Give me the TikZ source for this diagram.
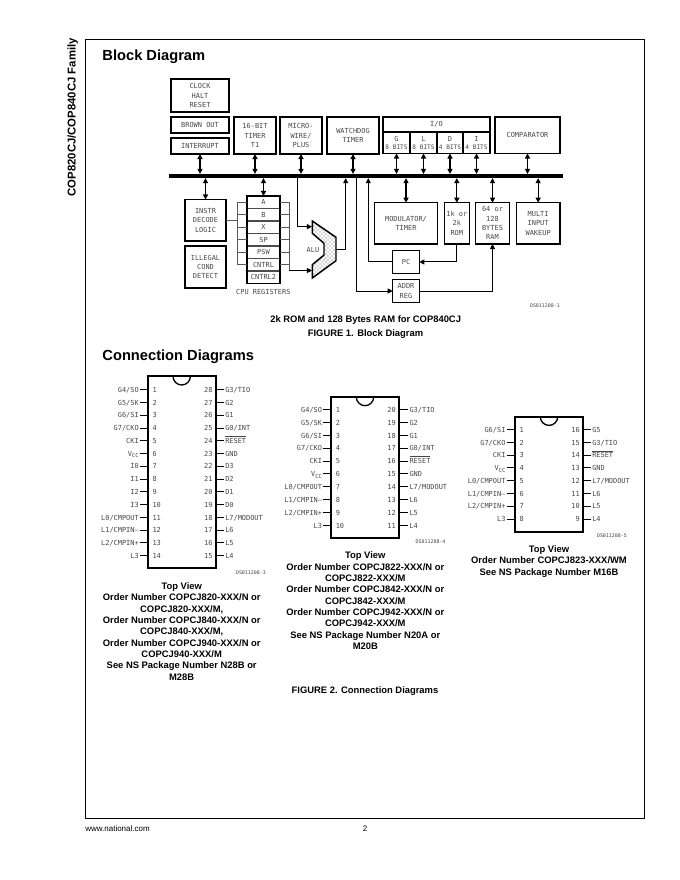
\documentclass[tikz,border=0pt]{standalone}
\usepackage{fontspec}
\setmainfont{Liberation Sans}
\newfontfamily\diag{DejaVu Sans Mono}
\usetikzlibrary{arrows.meta,patterns,calc}
\newcommand\dfont{\diag\fontsize{5.2pt}{7pt}\selectfont}
\newcommand\bxx[7][]{%
  \pgfmathsetmacro\bw{(#5-#3)*0.75}\pgfmathsetmacro\bh{(#6-#4)*0.75}%
  \pgfmathsetmacro\bcx{(#5+#3)/2}\pgfmathsetmacro\bcy{(#6+#4)/2}%
  \node[boxn,#1,minimum width=\bw pt,minimum height=\bh pt] (#2) at (\bcx,\bcy) {#7};}
\newcommand\vcc{V\raisebox{-1.3pt}{\fontsize{4.2pt}{4pt}\selectfont CC}}
\newcommand\rst{$\overline{\mbox{RESET}}$}
\newcommand\bits[1]{{\fontsize{4.6pt}{5pt}\selectfont #1}}
\tikzset{
  boxn/.style={draw=black,line width=1.1pt,inner sep=0pt,outer sep=0pt,align=center,font=\dfont,text=black!72},
  regcell/.style={line width=0.8pt,draw=black!70},
  bi/.style={line width=0.9pt,{Triangle[length=3.8pt,width=3.8pt]}-{Triangle[length=3.8pt,width=3.8pt]}},
  uni/.style={line width=0.75pt,-{Triangle[length=3.8pt,width=3.8pt]}},
  wiregray/.style={line width=0.75pt,draw=black!65},
  head/.style={font=\fontsize{11pt}{13pt}\selectfont\bfseries,anchor=west,inner sep=0pt},
  captxt/.style={font=\fontsize{7.05pt}{8.5pt}\selectfont\bfseries,align=center,inner sep=0pt},
  dsn/.style={font=\diag\fontsize{3.7pt}{4pt}\selectfont,anchor=east,inner sep=0pt,text=black!75},
  lbl/.style={font=\dfont,inner sep=0pt,text=black!72},
  pinl/.style={font=\dfont,text=black!72,anchor=east,inner sep=0pt,text height=4pt,text depth=0pt},
  pinr/.style={font=\dfont,text=black!72,anchor=west,inner sep=0pt,text height=4pt,text depth=0pt},
  stub/.style={line width=0.75pt},
  notch/.style={line width=1pt},
}
\newcommand\leftpins[5]{%
  \foreach \n/\t [count=\i from 0] in {#5}{
    \pgfmathsetmacro\py{#3+\i*#4}
    \node[pinl] (#1L\n) at (#2,\py) {\t};
    \draw[stub] (#1L\n.east) ++(0.7pt,0) -- (#1L\n.east -| #1.west);
    \node[pinr,xshift=3.4pt] (#1NL\n) at (#1L\n.east -| #1.west) {\n};
  }}
\newcommand\rightpins[5]{%
  \foreach \n/\t [count=\i from 0] in {#5}{
    \pgfmathsetmacro\py{#3+\i*#4}
    \node[pinr] (#1R\n) at (#2,\py) {\t};
    \draw[stub] (#1R\n.west) ++(-0.7pt,0) -- (#1R\n.west -| #1.east);
    \node[pinl,xshift=-2.4pt] (#1NR\n) at (#1R\n.west -| #1.east) {\n};
  }}
\begin{document}
\begin{tikzpicture}[x=0.75pt,y=-0.75pt]
\useasboundingbox (0,0) rectangle (680,880);
% page furniture
\bxx[line width=0.75pt]{frame}{85}{39.5}{644}{818}{}
\node[rotate=90,font=\fontsize{8.5pt}{9pt}\selectfont\bfseries,inner sep=0pt] (side) at (72.7,117.3) {COP820CJ/COP840CJ Family};
\node[font=\fontsize{6pt}{7pt}\selectfont,anchor=west,inner sep=0pt] (web) at (85,829) {www.national.com};
\node[font=\fontsize{6pt}{7pt}\selectfont,inner sep=0pt] (pg) at (365,829) {2};
\node[head] (h1) at (102.2,57) {Block Diagram};
\node[head] (h2) at (102.2,356.5) {Connection Diagrams};
% top boxes
\bxx{clock}{171}{79}{229}{112}{CLOCK\\HALT\\RESET}
\bxx{brown}{171}{117}{229}{133}{BROWN OUT}
\bxx{intr}{171}{138}{229}{154}{INTERRUPT}
\bxx{timer}{234}{117}{276}{154}{16-BIT\\TIMER\\T1}
\bxx{micro}{280}{117}{322}{154}{MICRO-\\WIRE/\\PLUS}
\bxx{wdog}{327}{117}{379}{154}{WATCHDOG\\TIMER}
\bxx{io}{383}{117}{490}{132}{I/O}
\bxx{ioG}{383}{132}{410}{153.5}{G\\[-1pt]\bits{8 BITS}}
\bxx{ioL}{410}{132}{437}{153.5}{L\\[-1pt]\bits{8 BITS}}
\bxx{ioD}{437}{132}{463}{153.5}{D\\[-1pt]\bits{4 BITS}}
\bxx{ioI}{463}{132}{490}{153.5}{I\\[-1pt]\bits{4 BITS}}
\bxx{comp}{495}{117}{560}{153.5}{COMPARATOR}
% bus
\node[fill=black,inner sep=0pt,outer sep=0pt,minimum width=295.5pt,minimum height=3.2pt] (bus) at (365.5,176) {};
% lower boxes
\bxx{instr}{185}{199.5}{226}{241}{INSTR\\DECODE\\LOGIC}
\bxx{illegal}{185}{246}{226}{288}{ILLEGAL\\COND\\DETECT}
\bxx[regcell]{rA}{247}{196}{280}{208.7}{A}
\bxx[regcell]{rB}{247}{208.7}{280}{221}{B}
\bxx[regcell]{rX}{247}{221}{280}{233.3}{X}
\bxx[regcell]{rSP}{247}{233.3}{280}{246}{SP}
\bxx[regcell]{rPSW}{247}{246}{280}{258.3}{PSW}
\bxx[regcell]{rC1}{247}{258.3}{280}{271}{CNTRL}
\bxx[regcell]{rC2}{247}{271}{280}{283.3}{CNTRL2}
\bxx{regs}{247}{196}{280}{283.3}{}
\node[lbl] (cpu) at (263.3,291.5) {CPU REGISTERS};
\bxx{modu}{374.7}{202.7}{437.3}{244}{MODULATOR/\\TIMER}
\bxx{rom}{444.3}{202.7}{469.3}{244}{1k or\\2k\\ROM}
\bxx{ram}{475.7}{202.7}{509.3}{244}{64 or\\128\\BYTES\\RAM}
\bxx{wake}{516.3}{202.7}{560}{244}{MULTI\\INPUT\\WAKEUP}
\bxx{pc}{392.7}{250.7}{419.3}{273.3}{PC}
\bxx{addr}{392.7}{279.7}{419.3}{302.3}{ADDR\\REG}
\node[dsn] (ds1) at (560,306) {DS011208-1};
% ALU
\draw[line width=1.1pt,pattern=crosshatch dots,pattern color=black!70] (312.3,221) -- (336,237.3) -- (336,260.7) -- (312.3,278) -- (312.3,264.7) -- (324,255) -- (324,243.3) -- (312.3,233.3) -- cycle;
\node[lbl] (alu) at (313,250) {ALU};
\coordinate (aluO) at (336,249.3);
\coordinate (aluIn1) at (312,226.7);
\coordinate (aluIn2) at (312,270.5);
% bus connections
\foreach \b in {intr,timer,micro,wdog,ioG,ioL,ioD,ioI,comp}
  \draw[bi] (\b.south) -- (\b.south |- bus.north);
\foreach \b in {instr,modu,rom,ram,wake,regs}
  \draw[bi] (\b.north) -- (\b.north |- bus.south);
% register brackets
\coordinate (brL) at (237.7,220.3);
\coordinate (brR) at (289,220.3);
\draw[wiregray] (instr.east |- brL) -- (brL);
\foreach \r in {rA,rB,rX,rSP,rPSW,rC1}{
  \draw[wiregray] (\r.west) -- (\r.west -| brL);
  \draw[wiregray] (\r.east) -- (\r.east -| brR);
}
\draw[wiregray] (rA.west -| brL) -- (rC1.west -| brL);
\draw[wiregray] (rA.east -| brR) -- (brR |- aluIn2);
\draw[uni] (brR |- aluIn2) -- (aluIn2);
\coordinate (tapA) at (297.7,226.7);
\draw[uni] (tapA |- bus.south) -- (tapA) -- (aluIn1);
\coordinate (outX) at (345.7,249.3);
\draw[uni] (aluO) -- (outX) -- (outX |- bus.south);
\coordinate (pcX) at (368.3,262);
\draw[uni] (pc.west) -- (pc.west -| pcX) -- (pcX |- bus.south);
\draw[uni] (rom.south) -- (rom.south |- pc.east) -- (pc.east);
\coordinate (adX) at (356.7,291);
\draw[uni] (adX |- bus.south) -- (adX |- addr.west) -- (addr.west);
\draw[uni] (addr.east) -- (addr.east -| ram.south) -- (ram.south);
% captions block
\node[captxt] (c1) at (365.7,320) {2k ROM and 128 Bytes RAM for COP840CJ};
\node[captxt] (c2) at (365.5,334) {FIGURE 1. Block Diagram};
% chip A
\bxx[line width=1.3pt]{chA}{147.7}{376.3}{216}{568.3}{}
\draw[notch] (173,376.3) arc[start angle=180,end angle=0,radius=8.7];
\leftpins{chA}{139}{389.7}{12.77}{1/{G4/SO},2/{G5/SK},3/{G6/SI},4/{G7/CKO},5/CKI,6/\vcc,7/I0,8/I1,9/I2,10/I3,11/{L0/CMPOUT},12/{L1/CMPIN–},13/{L2/CMPIN+},14/L3}
\rightpins{chA}{225}{389.7}{12.77}{28/{G3/TIO},27/G2,26/G1,25/{G0/INT},24/\rst,23/GND,22/D3,21/D2,20/D1,19/D0,18/{L7/MODOUT},17/L6,16/L5,15/L4}
\node[dsn] (ds3) at (266,572.7) {DS011208-3};
\node[captxt] (capA) at (181.7,631.3) {Top View\\Order Number COPCJ820-XXX/N or\\COPCJ820-XXX/M,\\Order Number COPCJ840-XXX/N or\\COPCJ840-XXX/M,\\Order Number COPCJ940-XXX/N or\\COPCJ940-XXX/M\\See NS Package Number N28B or\\M28B};
% chip B
\bxx[line width=1.3pt]{chB}{331}{397}{399.3}{538.3}{}
\draw[notch] (356.3,397) arc[start angle=180,end angle=0,radius=8.7];
\leftpins{chB}{322.3}{409.7}{12.85}{1/{G4/SO},2/{G5/SK},3/{G6/SI},4/{G7/CKO},5/CKI,6/\vcc,7/{L0/CMPOUT},8/{L1/CMPIN–},9/{L2/CMPIN+},10/L3}
\rightpins{chB}{409.3}{409.7}{12.85}{20/{G3/TIO},19/G2,18/G1,17/{G0/INT},16/\rst,15/GND,14/{L7/MODOUT},13/L6,12/L5,11/L4}
\node[dsn] (ds4) at (445.7,541.7) {DS011208-4};
\node[captxt] (capB) at (365.3,600.7) {Top View\\Order Number COPCJ822-XXX/N or\\COPCJ822-XXX/M\\Order Number COPCJ842-XXX/N or\\COPCJ842-XXX/M\\Order Number COPCJ942-XXX/N or\\COPCJ942-XXX/M\\See NS Package Number N20A or\\M20B};
\node[captxt] (f2) at (365,690.7) {FIGURE 2. Connection Diagrams};
% chip C
\bxx[line width=1.3pt]{chC}{514.7}{416.7}{583.3}{531.7}{}
\draw[notch] (540.3,416.7) arc[start angle=180,end angle=0,radius=8.7];
\leftpins{chC}{505.7}{429.7}{12.76}{1/{G6/SI},2/{G7/CKO},3/CKI,4/\vcc,5/{L0/CMPOUT},6/{L1/CMPIN–},7/{L2/CMPIN+},8/L3}
\rightpins{chC}{592}{429.7}{12.76}{16/G5,15/{G3/TIO},14/\rst,13/GND,12/{L7/MODOUT},11/L6,10/L5,9/L4}
\node[dsn] (ds5) at (627,536) {DS011208-5};
\node[captxt] (capC) at (549,561.5) {Top View\\Order Number COPCJ823-XXX/WM\\See NS Package Number M16B};
\end{tikzpicture}
\end{document}
